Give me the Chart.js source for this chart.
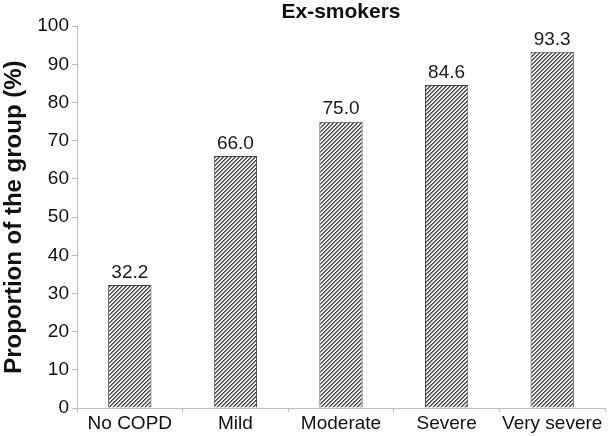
<!DOCTYPE html>
<html>
<head>
<meta charset="utf-8">
<script src="https://cdn.jsdelivr.net/npm/chart.js@4"></script>
<style>
  html, body { margin: 0; padding: 0; background: #fff; }
  #wrap { width: 608px; height: 436px; }
</style>
</head>
<body>
<div id="wrap"><canvas id="ex_smokers_chart"></canvas></div>
<script>
// categories and values
const categories = ['No COPD', 'Mild', 'Moderate', 'Severe', 'Very severe'];
const proportions = [32.2, 66.0, 75.0, 84.6, 93.3];
const y_ticks = [0, 10, 20, 30, 40, 50, 60, 70, 80, 90, 100];

const font_family = "'Liberation Sans', Arial, sans-serif";

// diagonal hatch fill for the bars
function make_hatch() {
  const c = document.createElement('canvas');
  c.width = 4; c.height = 4;
  const g = c.getContext('2d');
  g.fillStyle = '#ececec';
  g.fillRect(0, 0, 4, 4);
  g.fillStyle = '#444';
  for (let y = 0; y < 4; y++) {
    g.fillRect((3 - y + 4) % 4, y, 1, 1);
    g.fillStyle = '#7a7a7a';
    g.fillRect((4 - y + 4) % 4, y, 1, 1);
    g.fillStyle = '#444';
  }
  return g.createPattern(c, 'repeat');
}

// value labels above bars
const bar_labels = {
  id: 'bar_labels',
  afterDatasetsDraw(chart) {
    const ctx = chart.ctx;
    const meta = chart.getDatasetMeta(0);
    ctx.save();
    ctx.font = '19px ' + font_family;
    ctx.fillStyle = '#1a1a1a';
    ctx.textAlign = 'center';
    ctx.textBaseline = 'bottom';
    meta.data.forEach((bar, i) => {
      ctx.fillText(proportions[i].toFixed(1), bar.x, bar.y - 3);
    });
    ctx.restore();
  }
};

const ctx = document.getElementById('ex_smokers_chart').getContext('2d');

const ex_smokers_chart = new Chart(ctx, {
  type: 'bar',
  data: {
    labels: categories,
    datasets: [{
      data: proportions,
      backgroundColor: make_hatch(),
      borderColor: '#444',
      borderWidth: 1,
      categoryPercentage: 1,
      barPercentage: 0.41
    }]
  },
  options: {
    responsive: true,
    maintainAspectRatio: false,
    animation: false,
    layout: { padding: { left: 0, right: 3, top: 0, bottom: 0 } },
    plugins: {
      legend: { display: false },
      tooltip: { enabled: false },
      title: {
        display: true,
        text: 'Ex-smokers',
        fullSize: false,
        color: '#111',
        font: { family: font_family, size: 21, weight: 'bold' },
        padding: { top: 0, bottom: 1 }
      }
    },
    scales: {
      x: {
        grid: {
          display: true,
          drawOnChartArea: false,
          offset: true,
          tickLength: 4,
          color: '#bdbdbd'
        },
        border: { color: '#bdbdbd' },
        ticks: {
          color: '#111',
          font: { family: font_family, size: 19 },
          padding: 0,
          maxRotation: 0
        },
        afterFit(scale) { scale.height = 28; }
      },
      y: {
        min: 0,
        max: 100,
        afterBuildTicks(scale) { scale.ticks = y_ticks.map(v => ({ value: v })); },
        grid: {
          display: true,
          drawOnChartArea: false,
          tickLength: 5,
          color: '#bdbdbd'
        },
        border: { color: '#bdbdbd' },
        ticks: {
          color: '#111',
          font: { family: font_family, size: 19 },
          padding: 3
        },
        title: {
          display: true,
          text: 'Proportion of the group (%)',
          color: '#111',
          font: { family: font_family, size: 24, weight: 'bold' },
          padding: { top: 0, bottom: 0 }
        },
        afterFit(scale) { scale.width = 77; }
      }
    }
  },
  plugins: [bar_labels]
});
</script>
</body>
</html>
